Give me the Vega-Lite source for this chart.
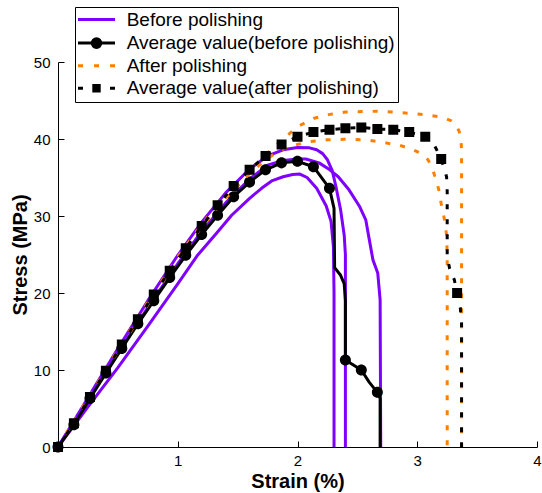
{
  "$schema": "https://vega.github.io/schema/vega-lite/v6.json",
  "width": 479,
  "height": 385,
  "autosize": {"type": "none"},
  "padding": {"left": 58, "top": 62, "right": 5, "bottom": 46},
  "background": "white",
  "config": {
    "view": {"stroke": null},
    "font": "Liberation Sans",
    "axis": {
      "grid": false,
      "domainColor": "black",
      "domainWidth": 1,
      "tickColor": "black",
      "tickWidth": 1,
      "labelColor": "black",
      "titleColor": "black",
      "labelFont": "Liberation Sans",
      "titleFont": "Liberation Sans",
      "labelFontSize": 15,
      "titleFontSize": 20,
      "titleFontWeight": "bold",
      "labelFlush": false
    },
    "legend": {
      "orient": "none", "legendX": 17, "legendY": -55,
      "fillColor": "white", "strokeColor": "black", "strokeWidth": 1, "padding": 3,
      "labelFont": "Liberation Sans", "labelFontSize": 19, "labelColor": "black",
      "labelOffset": 20.7, "labelLimit": 400, "symbolSize": 100, "symbolOffset": 9,
      "rowPadding": 2.6, "symbolStrokeWidth": 3, "symbolOpacity": 1
    }
  },
  "datasets": {
    "purple": [
      {"series": "Before polishing", "curve": "a", "i": 0, "x": 0, "y": 0},
      {"series": "Before polishing", "curve": "a", "i": 1, "x": 0.25, "y": 5.2},
      {"series": "Before polishing", "curve": "a", "i": 2, "x": 0.5, "y": 10.3},
      {"series": "Before polishing", "curve": "a", "i": 3, "x": 0.75, "y": 15.7},
      {"series": "Before polishing", "curve": "a", "i": 4, "x": 1.0, "y": 21.2},
      {"series": "Before polishing", "curve": "a", "i": 5, "x": 1.16, "y": 24.8},
      {"series": "Before polishing", "curve": "a", "i": 6, "x": 1.32, "y": 27.7},
      {"series": "Before polishing", "curve": "a", "i": 7, "x": 1.45, "y": 30.1},
      {"series": "Before polishing", "curve": "a", "i": 8, "x": 1.6, "y": 32.3},
      {"series": "Before polishing", "curve": "a", "i": 9, "x": 1.7, "y": 33.6},
      {"series": "Before polishing", "curve": "a", "i": 10, "x": 1.79, "y": 34.6},
      {"series": "Before polishing", "curve": "a", "i": 11, "x": 1.88, "y": 35.1},
      {"series": "Before polishing", "curve": "a", "i": 12, "x": 1.96, "y": 35.4},
      {"series": "Before polishing", "curve": "a", "i": 13, "x": 2.02, "y": 35.45},
      {"series": "Before polishing", "curve": "a", "i": 14, "x": 2.08, "y": 35.0},
      {"series": "Before polishing", "curve": "a", "i": 15, "x": 2.16, "y": 33.6},
      {"series": "Before polishing", "curve": "a", "i": 16, "x": 2.24, "y": 31.3},
      {"series": "Before polishing", "curve": "a", "i": 17, "x": 2.28, "y": 29.3},
      {"series": "Before polishing", "curve": "a", "i": 18, "x": 2.3, "y": 26.0},
      {"series": "Before polishing", "curve": "a", "i": 19, "x": 2.305, "y": 20},
      {"series": "Before polishing", "curve": "a", "i": 20, "x": 2.305, "y": 0},
      {"series": "Before polishing", "curve": "b", "i": 0, "x": 0, "y": 0},
      {"series": "Before polishing", "curve": "b", "i": 1, "x": 0.25, "y": 6.4},
      {"series": "Before polishing", "curve": "b", "i": 2, "x": 0.5, "y": 12.8},
      {"series": "Before polishing", "curve": "b", "i": 3, "x": 0.75, "y": 19.0},
      {"series": "Before polishing", "curve": "b", "i": 4, "x": 1.0, "y": 24.9},
      {"series": "Before polishing", "curve": "b", "i": 5, "x": 1.2, "y": 29.2},
      {"series": "Before polishing", "curve": "b", "i": 6, "x": 1.4, "y": 33.0},
      {"series": "Before polishing", "curve": "b", "i": 7, "x": 1.6, "y": 36.1},
      {"series": "Before polishing", "curve": "b", "i": 8, "x": 1.75, "y": 37.8},
      {"series": "Before polishing", "curve": "b", "i": 9, "x": 1.88, "y": 38.6},
      {"series": "Before polishing", "curve": "b", "i": 10, "x": 2.0, "y": 38.9},
      {"series": "Before polishing", "curve": "b", "i": 11, "x": 2.1, "y": 38.85},
      {"series": "Before polishing", "curve": "b", "i": 12, "x": 2.16, "y": 38.6},
      {"series": "Before polishing", "curve": "b", "i": 13, "x": 2.21, "y": 38.1},
      {"series": "Before polishing", "curve": "b", "i": 14, "x": 2.25, "y": 37.3},
      {"series": "Before polishing", "curve": "b", "i": 15, "x": 2.29, "y": 35.9},
      {"series": "Before polishing", "curve": "b", "i": 16, "x": 2.32, "y": 33.9},
      {"series": "Before polishing", "curve": "b", "i": 17, "x": 2.36, "y": 30.8},
      {"series": "Before polishing", "curve": "b", "i": 18, "x": 2.39, "y": 27.5},
      {"series": "Before polishing", "curve": "b", "i": 19, "x": 2.4, "y": 25},
      {"series": "Before polishing", "curve": "b", "i": 20, "x": 2.4, "y": 0},
      {"series": "Before polishing", "curve": "c", "i": 0, "x": 0, "y": 0},
      {"series": "Before polishing", "curve": "c", "i": 1, "x": 0.25, "y": 6.1},
      {"series": "Before polishing", "curve": "c", "i": 2, "x": 0.5, "y": 12.2},
      {"series": "Before polishing", "curve": "c", "i": 3, "x": 0.75, "y": 18.1},
      {"series": "Before polishing", "curve": "c", "i": 4, "x": 1.0, "y": 23.8},
      {"series": "Before polishing", "curve": "c", "i": 5, "x": 1.2, "y": 28.0},
      {"series": "Before polishing", "curve": "c", "i": 6, "x": 1.4, "y": 31.7},
      {"series": "Before polishing", "curve": "c", "i": 7, "x": 1.6, "y": 34.8},
      {"series": "Before polishing", "curve": "c", "i": 8, "x": 1.75, "y": 36.6},
      {"series": "Before polishing", "curve": "c", "i": 9, "x": 1.88, "y": 37.2},
      {"series": "Before polishing", "curve": "c", "i": 10, "x": 2.0, "y": 37.4},
      {"series": "Before polishing", "curve": "c", "i": 11, "x": 2.07, "y": 37.4},
      {"series": "Before polishing", "curve": "c", "i": 12, "x": 2.18, "y": 36.9},
      {"series": "Before polishing", "curve": "c", "i": 13, "x": 2.27, "y": 36.0},
      {"series": "Before polishing", "curve": "c", "i": 14, "x": 2.34, "y": 35.1},
      {"series": "Before polishing", "curve": "c", "i": 15, "x": 2.43, "y": 33.4},
      {"series": "Before polishing", "curve": "c", "i": 16, "x": 2.52, "y": 31.2},
      {"series": "Before polishing", "curve": "c", "i": 17, "x": 2.57, "y": 29.5},
      {"series": "Before polishing", "curve": "c", "i": 18, "x": 2.6, "y": 26.9},
      {"series": "Before polishing", "curve": "c", "i": 19, "x": 2.63, "y": 24.3},
      {"series": "Before polishing", "curve": "c", "i": 20, "x": 2.67, "y": 22.6},
      {"series": "Before polishing", "curve": "c", "i": 21, "x": 2.69, "y": 19.1},
      {"series": "Before polishing", "curve": "c", "i": 22, "x": 2.695, "y": 0}
    ],
    "orange": [
      {"series": "After polishing", "curve": "d", "i": 0, "x": 0, "y": 0},
      {"series": "After polishing", "curve": "d", "i": 1, "x": 0.25, "y": 6.3},
      {"series": "After polishing", "curve": "d", "i": 2, "x": 0.5, "y": 12.6},
      {"series": "After polishing", "curve": "d", "i": 3, "x": 0.75, "y": 18.8},
      {"series": "After polishing", "curve": "d", "i": 4, "x": 1.0, "y": 24.7},
      {"series": "After polishing", "curve": "d", "i": 5, "x": 1.2, "y": 28.9},
      {"series": "After polishing", "curve": "d", "i": 6, "x": 1.4, "y": 32.6},
      {"series": "After polishing", "curve": "d", "i": 7, "x": 1.6, "y": 35.9},
      {"series": "After polishing", "curve": "d", "i": 8, "x": 1.75, "y": 38.2},
      {"series": "After polishing", "curve": "d", "i": 9, "x": 1.88, "y": 40.0},
      {"series": "After polishing", "curve": "d", "i": 10, "x": 2.0, "y": 41.6},
      {"series": "After polishing", "curve": "d", "i": 11, "x": 2.14, "y": 42.7},
      {"series": "After polishing", "curve": "d", "i": 12, "x": 2.27, "y": 43.2},
      {"series": "After polishing", "curve": "d", "i": 13, "x": 2.4, "y": 43.5},
      {"series": "After polishing", "curve": "d", "i": 14, "x": 2.66, "y": 43.6},
      {"series": "After polishing", "curve": "d", "i": 15, "x": 2.8, "y": 43.5},
      {"series": "After polishing", "curve": "d", "i": 16, "x": 2.97, "y": 43.3},
      {"series": "After polishing", "curve": "d", "i": 17, "x": 3.1, "y": 43.1},
      {"series": "After polishing", "curve": "d", "i": 18, "x": 3.21, "y": 42.8},
      {"series": "After polishing", "curve": "d", "i": 19, "x": 3.28, "y": 42.4},
      {"series": "After polishing", "curve": "d", "i": 20, "x": 3.32, "y": 41.9},
      {"series": "After polishing", "curve": "d", "i": 21, "x": 3.35, "y": 41.0},
      {"series": "After polishing", "curve": "d", "i": 22, "x": 3.365, "y": 40.0},
      {"series": "After polishing", "curve": "d", "i": 23, "x": 3.37, "y": 38.5},
      {"series": "After polishing", "curve": "d", "i": 24, "x": 3.37, "y": 0},
      {"series": "After polishing", "curve": "e", "i": 0, "x": 0, "y": 0},
      {"series": "After polishing", "curve": "e", "i": 1, "x": 0.25, "y": 6.2},
      {"series": "After polishing", "curve": "e", "i": 2, "x": 0.5, "y": 12.4},
      {"series": "After polishing", "curve": "e", "i": 3, "x": 0.75, "y": 18.5},
      {"series": "After polishing", "curve": "e", "i": 4, "x": 1.0, "y": 24.4},
      {"series": "After polishing", "curve": "e", "i": 5, "x": 1.2, "y": 28.6},
      {"series": "After polishing", "curve": "e", "i": 6, "x": 1.4, "y": 32.3},
      {"series": "After polishing", "curve": "e", "i": 7, "x": 1.6, "y": 35.5},
      {"series": "After polishing", "curve": "e", "i": 8, "x": 1.75, "y": 37.5},
      {"series": "After polishing", "curve": "e", "i": 9, "x": 1.88, "y": 38.7},
      {"series": "After polishing", "curve": "e", "i": 10, "x": 2.0, "y": 39.3},
      {"series": "After polishing", "curve": "e", "i": 11, "x": 2.1, "y": 39.65},
      {"series": "After polishing", "curve": "e", "i": 12, "x": 2.25, "y": 39.9},
      {"series": "After polishing", "curve": "e", "i": 13, "x": 2.38, "y": 39.96},
      {"series": "After polishing", "curve": "e", "i": 14, "x": 2.57, "y": 39.9},
      {"series": "After polishing", "curve": "e", "i": 15, "x": 2.68, "y": 39.65},
      {"series": "After polishing", "curve": "e", "i": 16, "x": 2.77, "y": 39.4},
      {"series": "After polishing", "curve": "e", "i": 17, "x": 2.85, "y": 39.2},
      {"series": "After polishing", "curve": "e", "i": 18, "x": 2.95, "y": 38.7},
      {"series": "After polishing", "curve": "e", "i": 19, "x": 3.02, "y": 38.2},
      {"series": "After polishing", "curve": "e", "i": 20, "x": 3.09, "y": 37.3},
      {"series": "After polishing", "curve": "e", "i": 21, "x": 3.13, "y": 36.0},
      {"series": "After polishing", "curve": "e", "i": 22, "x": 3.16, "y": 34.5},
      {"series": "After polishing", "curve": "e", "i": 23, "x": 3.18, "y": 33.4},
      {"series": "After polishing", "curve": "e", "i": 24, "x": 3.2, "y": 31.6},
      {"series": "After polishing", "curve": "e", "i": 25, "x": 3.225, "y": 29.7},
      {"series": "After polishing", "curve": "e", "i": 26, "x": 3.245, "y": 27.5},
      {"series": "After polishing", "curve": "e", "i": 27, "x": 3.25, "y": 25},
      {"series": "After polishing", "curve": "e", "i": 28, "x": 3.25, "y": 0}
    ],
    "avgBefore": [
      {"series": "Average value(before polishing)", "i": 0, "x": 0, "y": 0},
      {"series": "Average value(before polishing)", "i": 1, "x": 0.133, "y": 2.9},
      {"series": "Average value(before polishing)", "i": 2, "x": 0.267, "y": 6.3},
      {"series": "Average value(before polishing)", "i": 3, "x": 0.4, "y": 9.6},
      {"series": "Average value(before polishing)", "i": 4, "x": 0.533, "y": 12.8},
      {"series": "Average value(before polishing)", "i": 5, "x": 0.667, "y": 16.0},
      {"series": "Average value(before polishing)", "i": 6, "x": 0.8, "y": 19.0},
      {"series": "Average value(before polishing)", "i": 7, "x": 0.933, "y": 22.0},
      {"series": "Average value(before polishing)", "i": 8, "x": 1.067, "y": 24.9},
      {"series": "Average value(before polishing)", "i": 9, "x": 1.2, "y": 27.6},
      {"series": "Average value(before polishing)", "i": 10, "x": 1.333, "y": 30.1},
      {"series": "Average value(before polishing)", "i": 11, "x": 1.467, "y": 32.5},
      {"series": "Average value(before polishing)", "i": 12, "x": 1.6, "y": 34.4},
      {"series": "Average value(before polishing)", "i": 13, "x": 1.733, "y": 36.0},
      {"series": "Average value(before polishing)", "i": 14, "x": 1.867, "y": 36.9},
      {"series": "Average value(before polishing)", "i": 15, "x": 2.0, "y": 37.1},
      {"series": "Average value(before polishing)", "i": 16, "x": 2.133, "y": 36.4},
      {"series": "Average value(before polishing)", "i": 17, "x": 2.267, "y": 33.6},
      {"series": "Average value(before polishing)", "i": 18, "x": 2.305, "y": 31.0},
      {"series": "Average value(before polishing)", "i": 19, "x": 2.31, "y": 23.3},
      {"series": "Average value(before polishing)", "i": 20, "x": 2.36, "y": 22.3},
      {"series": "Average value(before polishing)", "i": 21, "x": 2.39, "y": 21.2},
      {"series": "Average value(before polishing)", "i": 22, "x": 2.4, "y": 19.0},
      {"series": "Average value(before polishing)", "i": 23, "x": 2.4, "y": 11.3},
      {"series": "Average value(before polishing)", "i": 24, "x": 2.533, "y": 10.0},
      {"series": "Average value(before polishing)", "i": 25, "x": 2.6, "y": 8.4},
      {"series": "Average value(before polishing)", "i": 26, "x": 2.667, "y": 7.1},
      {"series": "Average value(before polishing)", "i": 27, "x": 2.69, "y": 6.3},
      {"series": "Average value(before polishing)", "i": 28, "x": 2.69, "y": 0}
    ],
    "circles": [
      {"series": "Average value(before polishing)", "x": 0, "y": 0},
      {"series": "Average value(before polishing)", "x": 0.133, "y": 2.9},
      {"series": "Average value(before polishing)", "x": 0.267, "y": 6.3},
      {"series": "Average value(before polishing)", "x": 0.4, "y": 9.6},
      {"series": "Average value(before polishing)", "x": 0.533, "y": 12.8},
      {"series": "Average value(before polishing)", "x": 0.667, "y": 16.0},
      {"series": "Average value(before polishing)", "x": 0.8, "y": 19.0},
      {"series": "Average value(before polishing)", "x": 0.933, "y": 22.0},
      {"series": "Average value(before polishing)", "x": 1.067, "y": 24.9},
      {"series": "Average value(before polishing)", "x": 1.2, "y": 27.6},
      {"series": "Average value(before polishing)", "x": 1.333, "y": 30.1},
      {"series": "Average value(before polishing)", "x": 1.467, "y": 32.5},
      {"series": "Average value(before polishing)", "x": 1.6, "y": 34.4},
      {"series": "Average value(before polishing)", "x": 1.733, "y": 36.0},
      {"series": "Average value(before polishing)", "x": 1.867, "y": 36.9},
      {"series": "Average value(before polishing)", "x": 2.0, "y": 37.1},
      {"series": "Average value(before polishing)", "x": 2.133, "y": 36.4},
      {"series": "Average value(before polishing)", "x": 2.267, "y": 33.6},
      {"series": "Average value(before polishing)", "x": 2.4, "y": 11.3},
      {"series": "Average value(before polishing)", "x": 2.533, "y": 10.0},
      {"series": "Average value(before polishing)", "x": 2.667, "y": 7.1}
    ],
    "avgAfter": [
      {"series": "Average value(after polishing)", "i": 0, "x": 0, "y": 0},
      {"series": "Average value(after polishing)", "i": 1, "x": 0.133, "y": 3.1},
      {"series": "Average value(after polishing)", "i": 2, "x": 0.267, "y": 6.5},
      {"series": "Average value(after polishing)", "i": 3, "x": 0.4, "y": 9.9},
      {"series": "Average value(after polishing)", "i": 4, "x": 0.533, "y": 13.3},
      {"series": "Average value(after polishing)", "i": 5, "x": 0.667, "y": 16.6},
      {"series": "Average value(after polishing)", "i": 6, "x": 0.8, "y": 19.8},
      {"series": "Average value(after polishing)", "i": 7, "x": 0.933, "y": 22.9},
      {"series": "Average value(after polishing)", "i": 8, "x": 1.067, "y": 25.8},
      {"series": "Average value(after polishing)", "i": 9, "x": 1.2, "y": 28.7},
      {"series": "Average value(after polishing)", "i": 10, "x": 1.333, "y": 31.4},
      {"series": "Average value(after polishing)", "i": 11, "x": 1.467, "y": 33.9},
      {"series": "Average value(after polishing)", "i": 12, "x": 1.6, "y": 36.0},
      {"series": "Average value(after polishing)", "i": 13, "x": 1.733, "y": 37.8},
      {"series": "Average value(after polishing)", "i": 14, "x": 1.867, "y": 39.3},
      {"series": "Average value(after polishing)", "i": 15, "x": 2.0, "y": 40.3},
      {"series": "Average value(after polishing)", "i": 16, "x": 2.133, "y": 40.9},
      {"series": "Average value(after polishing)", "i": 17, "x": 2.267, "y": 41.2},
      {"series": "Average value(after polishing)", "i": 18, "x": 2.4, "y": 41.4},
      {"series": "Average value(after polishing)", "i": 19, "x": 2.533, "y": 41.5},
      {"series": "Average value(after polishing)", "i": 20, "x": 2.667, "y": 41.3},
      {"series": "Average value(after polishing)", "i": 21, "x": 2.8, "y": 41.2},
      {"series": "Average value(after polishing)", "i": 22, "x": 2.933, "y": 40.9},
      {"series": "Average value(after polishing)", "i": 23, "x": 3.067, "y": 40.3},
      {"series": "Average value(after polishing)", "i": 24, "x": 3.13, "y": 39.6},
      {"series": "Average value(after polishing)", "i": 25, "x": 3.2, "y": 37.4},
      {"series": "Average value(after polishing)", "i": 26, "x": 3.245, "y": 35.1},
      {"series": "Average value(after polishing)", "i": 27, "x": 3.25, "y": 33.2},
      {"series": "Average value(after polishing)", "i": 28, "x": 3.25, "y": 24.7},
      {"series": "Average value(after polishing)", "i": 29, "x": 3.27, "y": 23.2},
      {"series": "Average value(after polishing)", "i": 30, "x": 3.31, "y": 21.7},
      {"series": "Average value(after polishing)", "i": 31, "x": 3.333, "y": 20.0},
      {"series": "Average value(after polishing)", "i": 32, "x": 3.36, "y": 18.0},
      {"series": "Average value(after polishing)", "i": 33, "x": 3.37, "y": 16.1},
      {"series": "Average value(after polishing)", "i": 34, "x": 3.37, "y": 0}
    ],
    "squares": [
      {"series": "Average value(after polishing)", "x": 0, "y": 0},
      {"series": "Average value(after polishing)", "x": 0.133, "y": 3.1},
      {"series": "Average value(after polishing)", "x": 0.267, "y": 6.5},
      {"series": "Average value(after polishing)", "x": 0.4, "y": 9.9},
      {"series": "Average value(after polishing)", "x": 0.533, "y": 13.3},
      {"series": "Average value(after polishing)", "x": 0.667, "y": 16.6},
      {"series": "Average value(after polishing)", "x": 0.8, "y": 19.8},
      {"series": "Average value(after polishing)", "x": 0.933, "y": 22.9},
      {"series": "Average value(after polishing)", "x": 1.067, "y": 25.8},
      {"series": "Average value(after polishing)", "x": 1.2, "y": 28.7},
      {"series": "Average value(after polishing)", "x": 1.333, "y": 31.4},
      {"series": "Average value(after polishing)", "x": 1.467, "y": 33.9},
      {"series": "Average value(after polishing)", "x": 1.6, "y": 36.0},
      {"series": "Average value(after polishing)", "x": 1.733, "y": 37.8},
      {"series": "Average value(after polishing)", "x": 1.867, "y": 39.3},
      {"series": "Average value(after polishing)", "x": 2.0, "y": 40.3},
      {"series": "Average value(after polishing)", "x": 2.133, "y": 40.9},
      {"series": "Average value(after polishing)", "x": 2.267, "y": 41.2},
      {"series": "Average value(after polishing)", "x": 2.4, "y": 41.4},
      {"series": "Average value(after polishing)", "x": 2.533, "y": 41.5},
      {"series": "Average value(after polishing)", "x": 2.667, "y": 41.3},
      {"series": "Average value(after polishing)", "x": 2.8, "y": 41.2},
      {"series": "Average value(after polishing)", "x": 2.933, "y": 40.9},
      {"series": "Average value(after polishing)", "x": 3.067, "y": 40.3},
      {"series": "Average value(after polishing)", "x": 3.2, "y": 37.4},
      {"series": "Average value(after polishing)", "x": 3.333, "y": 20.0}
    ]
  },
  "encoding": {
    "x": {
      "field": "x", "type": "quantitative",
      "scale": {"domain": [0, 4], "nice": false},
      "axis": {"values": [1, 2, 3, 4], "title": "Strain (%)", "tickSize": -6, "labelPadding": 12, "titleY": 40, "titleBaseline": "alphabetic"}
    },
    "y": {
      "field": "y", "type": "quantitative",
      "scale": {"domain": [0, 50], "nice": false},
      "axis": {"values": [0, 10, 20, 30, 40, 50], "title": "Stress (MPa)", "tickSize": -6, "labelPadding": 14, "titleX": -32, "titleBaseline": "alphabetic"}
    },
    "color": {
      "field": "series", "type": "nominal", "title": null,
      "scale": {
        "domain": ["Before polishing", "Average value(before polishing)", "After polishing", "Average value(after polishing)"],
        "range": ["#8000FF", "#000000", "#FF8000", "#000000"]
      }
    }
  },
  "layer": [
    {
      "data": {"name": "purple"},
      "mark": {"type": "line", "strokeWidth": 3, "strokeJoin": "round"},
      "encoding": {"detail": {"field": "curve", "type": "nominal"}, "order": {"field": "i", "type": "quantitative"}}
    },
    {
      "data": {"name": "avgBefore"},
      "mark": {"type": "line", "strokeWidth": 3, "strokeJoin": "round"},
      "encoding": {"order": {"field": "i", "type": "quantitative"}}
    },
    {
      "data": {"name": "circles"},
      "mark": {"type": "point", "filled": true, "size": 164, "opacity": 1},
      "encoding": {
        "shape": {
          "field": "series", "type": "nominal", "title": null,
          "scale": {
            "domain": ["Before polishing", "Average value(before polishing)", "After polishing", "Average value(after polishing)"],
            "range": ["M-3.7,0L3.7,0", "M-3.7,0L3.7,0M0.86,0A0.86,0.86,0,1,1,-0.86,0A0.86,0.86,0,1,1,0.86,0Z", "M-3.7,0L-2.7,0M-0.5,0L0.5,0M2.7,0L3.7,0", "M-3.7,0L-2.7,0M2.7,0L3.7,0M-0.54,-0.54L0.54,-0.54L0.54,0.54L-0.54,0.54Z"]
          }
        }
      }
    },
    {
      "data": {"name": "orange"},
      "mark": {"type": "line", "strokeWidth": 3, "strokeDash": [5, 10], "strokeCap": "butt"},
      "encoding": {"detail": {"field": "curve", "type": "nominal"}, "order": {"field": "i", "type": "quantitative"}}
    },
    {
      "data": {"name": "avgAfter"},
      "mark": {"type": "line", "strokeWidth": 3, "strokeDash": [5, 10], "strokeCap": "butt"},
      "encoding": {"order": {"field": "i", "type": "quantitative"}}
    },
    {
      "data": {"name": "squares"},
      "mark": {"type": "point", "filled": true, "size": 343, "opacity": 1},
      "encoding": {
        "shape": {
          "field": "series", "type": "nominal", "title": null,
          "scale": {
            "domain": ["Before polishing", "Average value(before polishing)", "After polishing", "Average value(after polishing)"],
            "range": ["M-3.7,0L3.7,0", "M-3.7,0L3.7,0M0.86,0A0.86,0.86,0,1,1,-0.86,0A0.86,0.86,0,1,1,0.86,0Z", "M-3.7,0L-2.7,0M-0.5,0L0.5,0M2.7,0L3.7,0", "M-3.7,0L-2.7,0M2.7,0L3.7,0M-0.54,-0.54L0.54,-0.54L0.54,0.54L-0.54,0.54Z"]
          }
        }
      }
    }
  ]
}
